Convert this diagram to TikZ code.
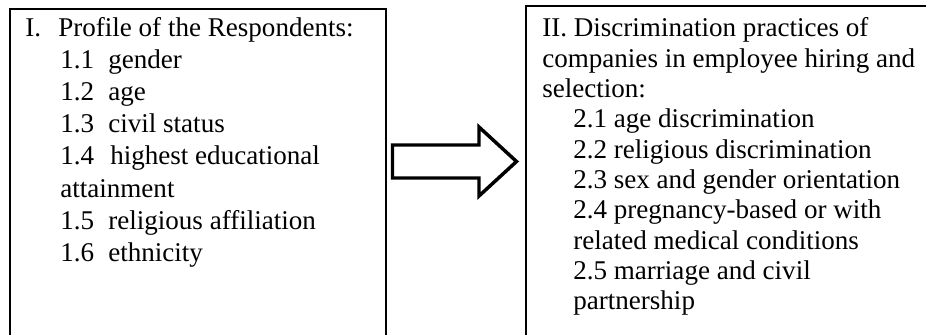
\documentclass[tikz,border=0pt]{standalone}
\usepackage{fontspec}
\setmainfont{Liberation Serif}
\begin{document}
\begin{tikzpicture}[x=0.75pt,y=-0.75pt,
  boxframe/.style={draw=black, line width=1.5pt, inner sep=0pt, anchor=north west},
  txt/.style={anchor=base west, inner sep=0pt, font=\fontsize{20.3}{24}\selectfont},
  blockarrow/.style={draw=black, line width=2.6pt, fill=white, line join=miter}]
\useasboundingbox (0,0) rectangle (926,335);
\clip (0,0) rectangle (926,335);
\node[boxframe, minimum width=282pt, minimum height=249pt] (L) at (9,8) {};
\node[boxframe, minimum width=307.5pt, minimum height=255pt] (R) at (525,5) {};
% left box text
\node[txt] (l0a) at (25,37) {I.};
\node[txt] (l0b) at (58,37) {Profile of the Respondents:};
\node[txt] (l1a) at (60,69) {1.1};
\node[txt] (l1b) at (108,69) {gender};
\node[txt] (l2a) at (60,101) {1.2};
\node[txt] (l2b) at (108,101) {age};
\node[txt] (l3a) at (60,133) {1.3};
\node[txt] (l3b) at (108,133) {civil status};
\node[txt] (l4a) at (60,165) {1.4};
\node[txt] (l4b) at (110,165) {highest educational};
\node[txt] (l4c) at (60,197) {attainment};
\node[txt] (l5a) at (60,229) {1.5};
\node[txt] (l5b) at (108,229) {religious affiliation};
\node[txt] (l6a) at (60,261) {1.6};
\node[txt] (l6b) at (108,261) {ethnicity};
% right box text
\node[txt] (r0) at (542,37) {II. Discrimination practices of};
\node[txt] (r1) at (542,67.3) {companies in employee hiring and};
\node[txt] (r2) at (542,97.6) {selection:};
\node[txt] (r3) at (573,127.9) {2.1 age discrimination};
\node[txt] (r4) at (573,158.2) {2.2 religious discrimination};
\node[txt] (r5) at (573,188.5) {2.3 sex and gender orientation};
\node[txt] (r6) at (573,218.8) {2.4 pregnancy-based or with};
\node[txt] (r7) at (573,249.1) {related medical conditions};
\node[txt] (r8) at (573,279.4) {2.5 marriage and civil};
\node[txt] (r9) at (573,309.7) {partnership};
% block arrow
\draw[blockarrow] (392.5,145) -- (479,145) -- (479,127) -- (516.5,161.5)
  -- (479,196) -- (479,178) -- (392.5,178) -- cycle;
\end{tikzpicture}
\end{document}
